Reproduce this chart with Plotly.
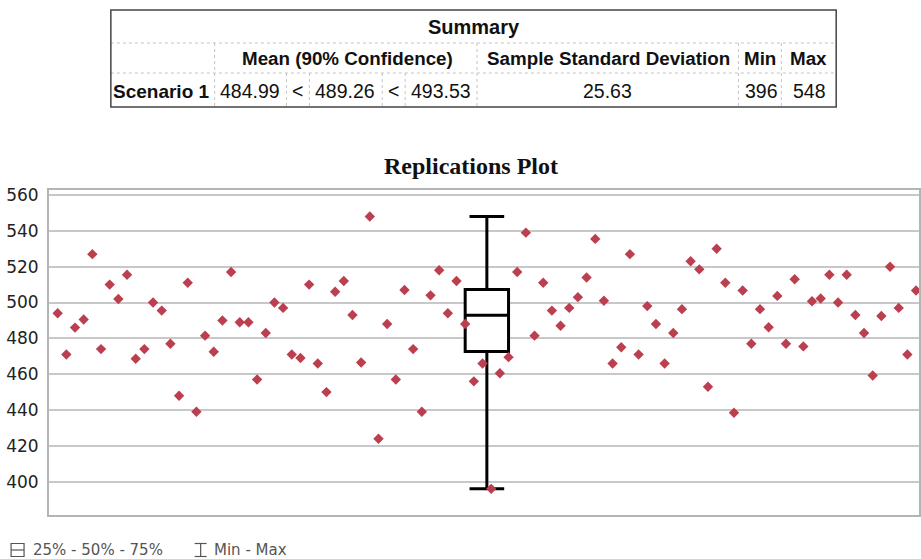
import plotly.graph_objects as go

# ---------------- data ----------------
replication = list(range(1, 101))
values = [494, 471, 486, 490.5, 527, 474, 510, 502, 515.5, 468.6,
          474, 500, 495.5, 477, 448, 511, 439, 481.5, 472.5, 490,
          517, 489, 489, 457, 483, 500, 497, 471, 469, 510,
          466, 450, 506, 512, 493, 466.5, 548, 424, 488, 457,
          507, 474, 439, 504, 518, 494, 512, 488, 456, 466,
          396, 460.5, 469.5, 517, 539, 481.5, 511, 495.5, 487, 497,
          503, 514, 535.5, 501, 466, 475, 527, 471, 498, 488,
          466, 483, 496.3, 523, 518.5, 453, 530, 511, 438.5, 506.7,
          477, 496.3, 486.2, 503.7, 477, 513, 475.5, 500.7, 502.2, 515.5,
          500, 515.5, 493, 483, 459.3, 492.5, 520, 497, 471, 506.7]

box_x = [50.5]
box_q1 = [472.7]
box_median = [492.9]
box_q3 = [507.3]
box_min = [396]
box_max = [548]

y_ticks = [400, 420, 440, 460, 480, 500, 520, 540, 560]

table_title = "Summary"
header_labels = ["Mean (90% Confidence)", "Sample Standard Deviation", "Min", "Max"]
row_label = "Scenario 1"
row_values = ["484.99", "<", "489.26", "<", "493.53", "25.63", "396", "548"]

legend_labels = ["25% - 50% - 75%", "Min - Max"]

# ---------------- layout helpers ----------------
W, H = 921, 559
L, R, T, B = 49, 0, 190, 44
PW = W - L - R
PH = H - T - B


def px(x):
    return (x - L) / PW


def py(y):
    return (H - B - y) / PH


fig = go.Figure()

fig.add_trace(go.Box(
    x=box_x, q1=box_q1, median=box_median, q3=box_q3,
    lowerfence=box_min, upperfence=box_max,
    width=5, whiskerwidth=0.8,
    line=dict(color="black", width=3), fillcolor="white",
    boxpoints=False, hoverinfo="skip", showlegend=False,
))

fig.add_trace(go.Scatter(
    x=replication, y=values, mode="markers",
    marker=dict(symbol="diamond", size=8, color="#bc3f4f"),
    showlegend=False, cliponaxis=False,
))

shapes = []
annotations = []

# ---- summary table ----
tx0, tx1 = 111, 838
ty = [10, 43, 73, 107]
grid_col = "#c4c4c4"
for yv in ty[1:3]:
    shapes.append(dict(type="line", xref="paper", yref="paper",
                       x0=px(tx0), x1=px(tx1), y0=py(yv), y1=py(yv),
                       line=dict(color=grid_col, width=1, dash="dot")))
for xv in [215, 478, 740, 783]:
    shapes.append(dict(type="line", xref="paper", yref="paper",
                       x0=px(xv), x1=px(xv), y0=py(ty[1]), y1=py(ty[3]),
                       line=dict(color=grid_col, width=1, dash="dot")))
for xv in [287, 310, 383, 406]:
    shapes.append(dict(type="line", xref="paper", yref="paper",
                       x0=px(xv), x1=px(xv), y0=py(ty[2]), y1=py(ty[3]),
                       line=dict(color=grid_col, width=1, dash="dot")))
shapes.append(dict(type="rect", xref="paper", yref="paper",
                   x0=px(tx0), x1=px(tx1), y0=py(ty[0]), y1=py(ty[3]),
                   line=dict(color="#444", width=1.5)))

tfont = "Liberation Sans, Arial, sans-serif"


def txt(x, y, s, size=18, bold=False, color="#111", font=tfont, xanchor="center"):
    annotations.append(dict(
        x=px(x), y=py(y), xref="paper", yref="paper", showarrow=False,
        text=f"<b>{s}</b>" if bold else s, xanchor=xanchor, yanchor="middle",
        font=dict(family=font, size=size, color=color)))


txt(475, 27, table_title, size=20, bold=True)
for lab, cx in zip(header_labels, [348, 610, 762, 810]):
    txt(cx, 58, lab, size=18.8, bold=True)
txt(162, 91, row_label, size=19, bold=True)
for v, cx in zip(row_values, [250, 298, 346, 394, 442, 609, 763, 811]):
    txt(cx, 91, v, size=19.5)

# ---- chart title ----
txt(472, 166, "Replications Plot", size=24, bold=True,
    font="Liberation Serif, Times New Roman, serif")

# ---- legend ----
lg = "#555"
shapes.append(dict(type="rect", xref="paper", yref="paper",
                   x0=px(11), x1=px(24), y0=py(543.5), y1=py(556.5),
                   line=dict(color=lg, width=1.2)))
shapes.append(dict(type="line", xref="paper", yref="paper",
                   x0=px(11), x1=px(24), y0=py(550), y1=py(550),
                   line=dict(color=lg, width=1.2)))
for (a, b, c, d) in [(195, 207, 543.5, 543.5), (195, 207, 556.5, 556.5), (201, 201, 543.5, 556.5)]:
    shapes.append(dict(type="line", xref="paper", yref="paper",
                       x0=px(a), x1=px(b), y0=py(c), y1=py(d),
                       line=dict(color=lg, width=1.2)))
txt(31, 550, legend_labels[0], size=15, color=lg, font="DejaVu Sans, sans-serif", xanchor="left")
txt(212, 550, legend_labels[1], size=15, color=lg, font="DejaVu Sans, sans-serif", xanchor="left")

fig.update_layout(
    width=W, height=H,
    margin=dict(l=L, r=R, t=T, b=B, pad=0),
    paper_bgcolor="white", plot_bgcolor="white",
    shapes=shapes, annotations=annotations,
    showlegend=False,
    xaxis=dict(type="linear", range=[0, 100.34], showgrid=False, zeroline=False,
               showticklabels=False, ticks="", showline=True, linecolor="#b4b4b4",
               linewidth=2, mirror=True),
    yaxis=dict(range=[381.4, 562.8], tickvals=y_ticks, showgrid=True,
               gridcolor="#c8c8c8", gridwidth=1.5, zeroline=False, ticks="",
               showline=True, linecolor="#b4b4b4", linewidth=2, mirror=True,
               ticklabelstandoff=5,
               tickfont=dict(family="DejaVu Sans, sans-serif", size=17, color="#222")),
)

fig.write_html("out.html")
